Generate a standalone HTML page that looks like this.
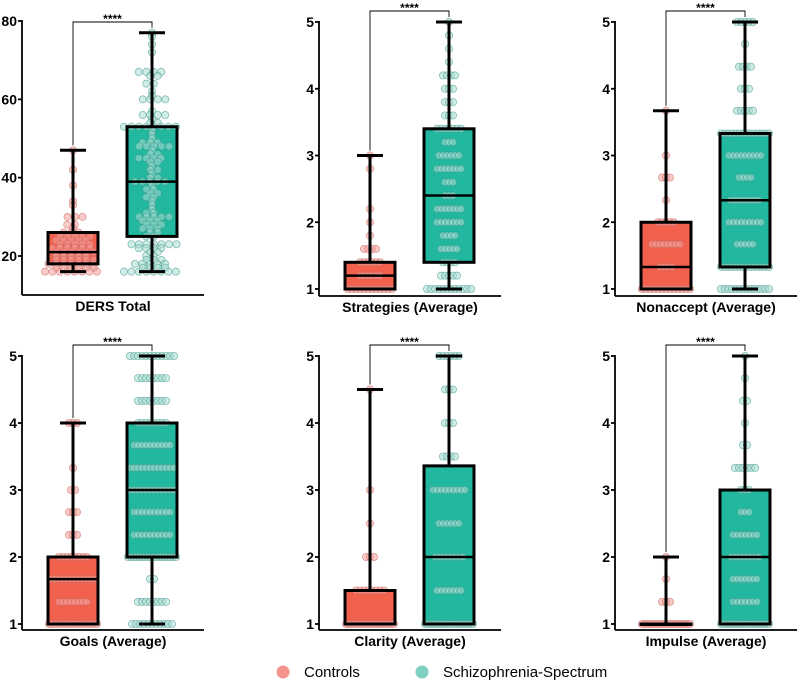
<!DOCTYPE html>
<html><head><meta charset="utf-8"><style>
body{margin:0;background:#fff;width:800px;height:682px;overflow:hidden}
svg{display:block}
text{font-family:"Liberation Sans",Arial,sans-serif}
</style></head><body>
<svg id="chart" width="800" height="682" xmlns="http://www.w3.org/2000/svg"></svg>
<script>
const titles = ["DERS Total","Strategies (Average)","Nonaccept (Average)","Goals (Average)","Clarity (Average)","Impulse (Average)"];
const yTicks = [[20,40,60,80],[1,2,3,4,5],[1,2,3,4,5],[1,2,3,4,5],[1,2,3,4,5],[1,2,3,4,5]];
// [min, q1, median, q3, max]
const ctrlStats = [[16,18,21,26,47],[1,1,1.2,1.4,3],[1,1,1.33,2,3.67],[1,1,1.67,2,4],[1,1,1,1.5,4.5],[1,1,1,1,2]];
const szStats = [[16,25,39,53,77],[1,1.4,2.4,3.4,5],[1,1.33,2.33,3.33,5],[1,2,3,4,5],[1,1,2,3.36,5],[1,1,2,3,5]];
// [value, count]
const ctrlPts = [
 [[47,1],[42,1],[38,1],[34,1],[33,1],[30,3],[28,2],[27,1],[26,3],[25,5],[24,5],[23,5],[22,6],[21,6],[20,5],[19,6],[18,7],[17,6],[16,8]],
 [[3,1],[2.8,1],[2.2,1],[2,1],[1.8,1],[1.6,4],[1.4,6],[1.2,6],[1,12]],
 [[3.67,1],[3,1],[2.67,3],[2.33,1],[2,5],[1.67,8],[1.33,4],[1,13]],
 [[4,3],[3.33,1],[3,2],[2.67,3],[2.33,3],[2,8],[1.67,12],[1.33,8],[1,15]],
 [[4.5,1],[3,1],[2.5,1],[2,3],[1.5,8],[1,18]],
 [[2,1],[1.67,1],[1.33,3],[1,18]]
];
const szPts = [
 [[77,1],[76,1],[74,1],[72,1],[67,4],[66,2],[64,2],[62,1],[61,1],[60,4],[57,1],[56,4],[55,1],[54,2],[53,8],[52,1],[51,1],[50,1],[49,3],[48,5],[47,1],[46,2],[45,4],[44,2],[43,1],[42,2],[41,1],[40,2],[39,5],[38,1],[37,2],[36,2],[35,2],[34,1],[33,1],[32,1],[31,2],[30,5],[29,3],[28,3],[27,3],[26,2],[25,2],[23,7],[22,4],[21,2],[20,2],[19,3],[18,5],[17,4],[16,8]],
 [[5,1],[4.8,1],[4.6,1],[4.4,1],[4.2,4],[4,3],[3.8,3],[3.6,3],[3.4,7],[3.2,3],[3,6],[2.8,7],[2.6,3],[2.4,3],[2.2,7],[2,7],[1.8,4],[1.6,5],[1.4,4],[1.2,5],[1,12]],
 [[5,5],[4.67,1],[4.33,4],[4,3],[3.67,5],[3.33,14],[3,9],[2.67,4],[2.33,8],[2,9],[1.67,5],[1.33,14],[1,14]],
 [[5,12],[4.67,8],[4.33,8],[4,8],[3.67,10],[3.33,12],[3,12],[2.67,10],[2.33,10],[2,18],[1.67,2],[1.33,8],[1,11]],
 [[5,6],[4.5,3],[4,3],[3.5,4],[3,9],[2.5,6],[2,8],[1.5,7],[1,18]],
 [[5,1],[4.67,1],[4.33,2],[4,1],[3.67,2],[3.33,6],[3,3],[2.67,3],[2.33,7],[2,8],[1.67,7],[1.33,7],[1,18]]
];
const sigLabels = ["****","****","****","****","****","****"];

const NS="http://www.w3.org/2000/svg";
const svg=document.getElementById('chart');
function mk(tag,attrs,parent){const e=document.createElementNS(NS,tag);for(const k in attrs)e.setAttribute(k,attrs[k]);(parent||svg).appendChild(e);return e;}

const axisX=[22,319,615,22,319,615];
const geo=[
 {v0:20,p0:256,v1:80,p1:21,bottom:295,br:22},
 {v0:1,p0:289,v1:5,p1:22,bottom:296,br:11},
 {v0:1,p0:289,v1:5,p1:22,bottom:296,br:11},
 {v0:1,p0:624,v1:5,p1:356,bottom:630,br:345},
 {v0:1,p0:624,v1:5,p1:356,bottom:630,br:345},
 {v0:1,p0:624,v1:5,p1:356,bottom:630,br:345}
];
const colors={ctrl:{box:"#f2604e",dot:"#f5a39c",stroke:"#c9645c"},sz:{box:"#22b8a0",dot:"#a9ddd3",stroke:"#3f9a8b"}};

for(let i=0;i<6;i++){
 const g=mk('g',{});
 
 
 const G=geo[i], ax=axisX[i];
 const y=v=>G.p0+(v-G.v0)*(G.p1-G.p0)/(G.v1-G.v0);
 const dense=i>0;
 const r=dense?3.6:3.6;
 const groups=[['ctrl',ctrlStats[i],ctrlPts[i],ax+51],['sz',szStats[i],szPts[i],ax+130]];
 groups.forEach(([key,st,pts,cx])=>{
  const c=colors[key];
  const bg=mk('g',{},g);
  
  
  mk('line',{x1:cx,x2:cx,y1:y(st[0]),y2:y(st[4]),stroke:'#000','stroke-width':3},bg);
  mk('rect',{x:cx-25,y:y(st[3]),width:50,height:Math.max(0.5,y(st[1])-y(st[3])),fill:c.box,stroke:'none'},bg);
  const dg=mk('g',{},g);
  
  
  pts.forEach(([v,n],idx)=>{
   const sp=dense?4:7.5;
   const cap=dense?48:52;
   let spacing=Math.min(sp,(n>1)?cap/(n-1):sp);
   for(let k=0;k<n;k++){
    let dx=(k-(n-1)/2)*spacing;
    if(!dense && n>1) dx+= (idx%2?2:-2);
    const dot=mk('circle',{cx:cx+dx,cy:y(v),r:r,fill:c.dot,'fill-opacity':0.55,stroke:c.stroke,'stroke-opacity':0.6,'stroke-width':0.8},dg);
    
    
   }
  });
  mk('rect',{x:cx-25,y:y(st[3]),width:50,height:Math.max(0.5,y(st[1])-y(st[3])),fill:'none',stroke:'#000','stroke-width':3},g);
  mk('line',{x1:cx-25,x2:cx+25,y1:y(st[2]),y2:y(st[2]),stroke:'#000','stroke-width':2.5},g);
  mk('line',{x1:cx,x2:cx,y1:y(st[3]),y2:y(st[4]),stroke:'#000','stroke-width':3},g);
  mk('line',{x1:cx,x2:cx,y1:y(st[1]),y2:y(st[0]),stroke:'#000','stroke-width':3},g);
  mk('line',{x1:cx-13,x2:cx+13,y1:y(st[4]),y2:y(st[4]),stroke:'#000','stroke-width':3},g);
  mk('line',{x1:cx-13,x2:cx+13,y1:y(st[0]),y2:y(st[0]),stroke:'#000','stroke-width':3},g);
 });
 const yAxis=mk('line',{x1:ax,x2:ax,y1:G.p1-1,y2:G.bottom,stroke:'#000','stroke-width':1.8},g);
 
 
 const xAxis=mk('line',{x1:ax,x2:ax+182,y1:G.bottom,y2:G.bottom,stroke:'#000','stroke-width':1.8},g);
 
 
 yTicks[i].forEach(t=>{
  mk('line',{x1:ax-4,x2:ax,y1:y(t),y2:y(t),stroke:'#000','stroke-width':1.8},g);
  const tl=mk('text',{x:ax-5,y:y(t)+5,'text-anchor':'end','font-size':14,'font-weight':'bold'},g);
  tl.textContent=t;
  
  
 });
 const tt=mk('text',{x:ax+91,y:G.bottom+16,'text-anchor':'middle','font-size':14,'font-weight':'bold'},g);
 tt.textContent=titles[i];
 
 
 const cxL=ax+51,cxR=ax+130;
 const br=mk('path',{d:`M${cxL},${Math.max(G.br,y(ctrlStats[i][4])-5)}V${G.br}H${cxR}V${Math.max(G.br+4,y(szStats[i][4])-5)}`,fill:'none',stroke:'#000','stroke-width':0.9},g);
 
 
 const sl=mk('text',{x:(cxL+cxR)/2,y:G.br+1,'text-anchor':'middle','font-size':12,'font-weight':'bold'},g);
 sl.textContent=sigLabels[i];
 
 
}
const lg=mk('g',{});


[["Controls","#f4948c",283,304],["Schizophrenia-Spectrum","#7fcfc2",422,443]].forEach(([name,col,cx,tx])=>{
 const e=mk('g',{},lg);
 
 
 mk('circle',{cx:cx,cy:672,r:6.5,fill:col},e);
 const t=mk('text',{x:tx,y:677,'font-size':15},e);
 t.textContent=name;
});
</script>
</body></html>
